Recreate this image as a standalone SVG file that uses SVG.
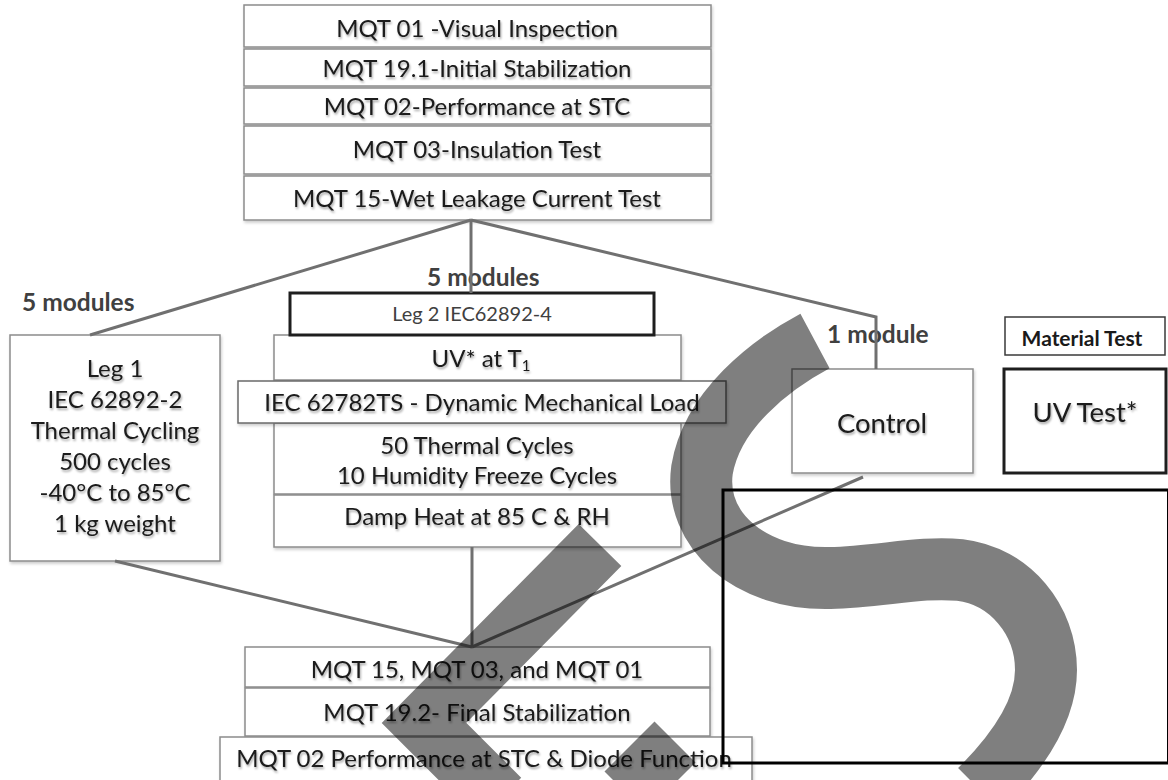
<svg xmlns="http://www.w3.org/2000/svg" width="1168" height="780" viewBox="0 0 1168 780">
  <defs>
    <filter id="txtShadow" x="-10%" y="-30%" width="120%" height="160%">
      <feDropShadow dx="1" dy="2" stdDeviation="1.2" flood-color="#000" flood-opacity="0.35"/>
    </filter>
    <filter id="boxShadow" x="-5%" y="-10%" width="110%" height="125%">
      <feDropShadow dx="1" dy="2" stdDeviation="1.5" flood-color="#000" flood-opacity="0.2"/>
    </filter>
  </defs>
  <style>
    .box { fill: #fff; stroke: #8c8c8c; stroke-width: 1.5; filter: url(#boxShadow); }
    .box-dark { fill: #fff; stroke: #6a6a6a; stroke-width: 1.5; filter: url(#boxShadow); }
    .box-bold { fill: #fff; stroke: #1e1e1e; stroke-width: 3; }
    .box-thin { fill: #fff; stroke: #3a3a3a; stroke-width: 1.5; }
    .t { font-family: Lato, "Open Sans", sans-serif; font-size: 24px; fill: #1a1a1a; text-anchor: middle; filter: url(#txtShadow); }
    .t-big { font-size: 27.5px; }
    .t-small { font-size: 20px; fill: #404040; filter: none; }
    .lbl { font-family: Lato, "Open Sans", sans-serif; font-size: 24.5px; font-weight: bold; fill: #404040; text-anchor: start; }
    .lbl-s { font-family: Lato, "Open Sans", sans-serif; font-size: 21px; font-weight: bold; fill: #1a1a1a; text-anchor: middle; }
    .conn { fill: none; stroke: #707070; stroke-width: 3; }
    .mark { fill: none; stroke: #000; stroke-opacity: 0.5; stroke-linecap: butt; }
  </style>

  <!-- Pre-test sequence -->
  <g id="pre-tests">
    <rect class="box" x="244" y="5" width="467" height="42"/>
    <text class="t" x="477" y="37">MQT 01 -Visual Inspection</text>
    <rect class="box" x="244" y="49" width="467" height="37"/>
    <text class="t" x="477" y="77">MQT 19.1-Initial Stabilization</text>
    <rect class="box" x="244" y="88" width="467" height="36"/>
    <text class="t" x="477" y="115">MQT 02-Performance at STC</text>
    <rect class="box" x="244" y="126" width="467" height="48"/>
    <text class="t" x="477" y="158">MQT 03-Insulation Test</text>
    <rect class="box" x="244" y="176" width="467" height="44"/>
    <text class="t" x="477" y="207">MQT 15-Wet Leakage Current Test</text>
  </g>

  <!-- Leg 1 -->
  <g id="leg1">
    <rect class="box" x="10" y="335" width="210" height="226"/>
    <text class="t" x="115" y="377">Leg 1</text>
    <text class="t" x="115" y="408">IEC 62892-2</text>
    <text class="t" x="115" y="439">Thermal Cycling</text>
    <text class="t" x="115" y="470">500 cycles</text>
    <text class="t" x="115" y="501">-40°C to 85°C</text>
    <text class="t" x="115" y="532">1 kg weight</text>
  </g>

  <!-- Leg 2 -->
  <g id="leg2">
    <rect class="box" x="274" y="335" width="407" height="45"/>
    <text class="t" x="481" y="367">UV* at T<tspan font-size="15" dy="4">1</tspan></text>
    <rect class="box" x="274" y="423" width="407" height="71"/>
    <text class="t" x="477" y="454">50 Thermal Cycles</text>
    <text class="t" x="477" y="484">10 Humidity Freeze Cycles</text>
    <rect class="box" x="274" y="495" width="407" height="52"/>
    <text class="t" x="477" y="525">Damp Heat at 85 C &amp; RH</text>
    <rect class="box-dark" x="238" y="381" width="488" height="42"/>
    <text class="t" x="482" y="411">IEC 62782TS - Dynamic Mechanical Load</text>
    <rect class="box-bold" x="290" y="293" width="364" height="42"/>
    <text class="t t-small" x="472" y="321">Leg 2 IEC62892-4</text>
  </g>

  <!-- Control -->
  <g id="control">
    <rect class="box" x="792" y="369" width="181" height="104"/>
    <text class="t t-big" x="882" y="433">Control</text>
  </g>

  <!-- Material test -->
  <g id="material-test">
    <rect class="box-thin" x="1005" y="317" width="160" height="38"/>
    <text class="lbl-s" x="1082" y="346">Material Test</text>
  </g>
  <g id="uv-test">
    <rect class="box-bold" x="1004" y="369" width="162" height="104"/>
    <text class="t t-big" x="1085" y="422">UV Test*</text>
  </g>

  <!-- Final measurements -->
  <g id="final-tests">
    <rect class="box" x="245" y="647" width="465" height="40"/>
    <text class="t" x="477" y="678">MQT 15, MQT 03, and MQT 01</text>
    <rect class="box" x="245" y="688" width="465" height="48"/>
    <text class="t" x="477" y="721">MQT 19.2- Final Stabilization</text>
    <rect class="box" x="220" y="737" width="532" height="60"/>
    <text class="t" x="484" y="767">MQT 02 Performance at STC &amp; Diode Function</text>
  </g>

  <!-- Connectors and module counts -->
  <g id="connectors">
    <text class="lbl" x="22" y="311">5 modules</text>
    <text class="lbl" x="427" y="286">5 modules</text>
    <text class="lbl" x="827" y="343">1 module</text>
    <polyline class="conn" points="471,220 90,335"/>
    <polyline class="conn" points="471,220 471,293"/>
    <polyline class="conn" points="471,220 876,317 876,369"/>
    <polyline class="conn" points="115,561 472,647"/>
    <polyline class="conn" points="472,547 472,647"/>
    <polyline class="conn" points="863,477 472,647"/>
  </g>

  <!-- Open frame -->
  <g id="frame">
    <rect x="723" y="490" width="445.5" height="273" fill="none" stroke="#000" stroke-width="3"/>
  </g>

  <!-- Hand-drawn marks -->
  <g id="marks">
    <path class="mark" stroke-width="62" d="M 815 341 C 770 365, 712 410, 702 470 C 694 530, 750 580, 830 578 C 880 577, 920 566, 960 570 C 1010 576, 1046 620, 1046 670 C 1046 710, 1020 750, 980 790"/>
    <path class="mark" stroke-width="60" stroke-linejoin="miter" d="M 600 545 L 424 723 L 500 799"/>
    <path class="mark" stroke-width="58" d="M 675 742 L 625 792"/>
  </g>
</svg>
